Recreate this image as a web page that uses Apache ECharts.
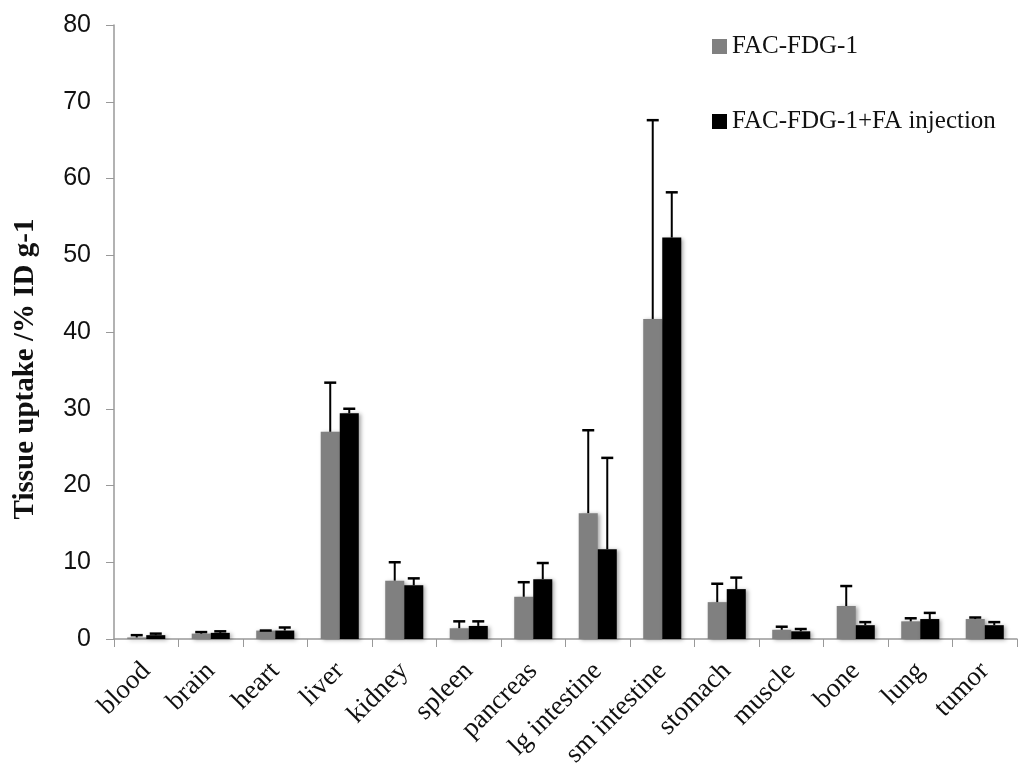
<!DOCTYPE html>
<html>
<head>
<meta charset="utf-8">
<script src="https://cdn.jsdelivr.net/npm/echarts@6/dist/echarts.min.js"></script>
<style>html,body{margin:0;padding:0;background:#fff}#c{width:1020px;height:774px}</style>
</head>
<body>
<div id="c"></div>
<script>
const categories = ['blood','brain','heart','liver','kidney','spleen','pancreas','lg intestine','sm intestine','stomach','muscle','bone','lung','tumor'];
const seriesNames = ['FAC-FDG-1','FAC-FDG-1+FA injection'];
const fdgValues = [0.2, 0.7, 1.1, 27.0, 7.6, 1.4, 5.5, 16.4, 41.7, 4.8, 1.2, 4.3, 2.3, 2.6];
const fdgErrTop = [0.5, 0.9, 1.1, 33.4, 10.0, 2.3, 7.4, 27.2, 67.6, 7.2, 1.6, 6.9, 2.7, 2.8];
const faValues = [0.5, 0.8, 1.1, 29.4, 7.0, 1.7, 7.8, 11.7, 52.3, 6.5, 1.0, 1.8, 2.6, 1.8];
const faErrTop = [0.7, 1.0, 1.5, 30.0, 7.9, 2.3, 9.9, 23.6, 58.2, 8.0, 1.3, 2.2, 3.4, 2.2];
const yTicks = [0, 10, 20, 30, 40, 50, 60, 70, 80];

const GAP = 0.41;
function errSeries(name, values, tops, side) {
  return {
    type: 'custom',
    name: name + ' err',
    z: 5,
    silent: true,
    data: values.map((v, i) => [i, v, tops[i]]),
    renderItem: function (params, api) {
      const catW = api.size([1, 0])[0];
      const barW = catW * (1 - GAP) / 2;
      const base = api.coord([api.value(0), api.value(1)]);
      const top = api.coord([api.value(0), api.value(2)]);
      const x = base[0] + side * barW / 2;
      const cap = 6;
      return {
        type: 'group',
        children: [
          { type: 'line', shape: { x1: x, y1: base[1], x2: x, y2: top[1] }, style: { stroke: '#000', lineWidth: 2 } },
          { type: 'line', shape: { x1: x - cap, y1: top[1], x2: x + cap, y2: top[1] }, style: { stroke: '#000', lineWidth: 2.5 } }
        ]
      };
    }
  };
}

const chart = echarts.init(document.getElementById('c'));
chart.setOption({
  animation: false,
  backgroundColor: '#fff',
  grid: { left: 114, right: 3, top: 25, bottom: 135 },
  legend: {
    orient: 'vertical',
    left: 707,
    top: 29,
    itemWidth: 15,
    itemHeight: 15,
    itemGap: 50,
    icon: 'rect',
    data: seriesNames,
    textStyle: { fontFamily: 'Liberation Serif', fontSize: 25, color: '#111' }
  },
  xAxis: {
    type: 'category',
    data: categories,
    axisLine: { lineStyle: { color: '#999', width: 1.5 } },
    axisTick: { show: true, length: 8, lineStyle: { color: '#999' } },
    axisLabel: { rotate: 45, margin: 28, interval: 0, fontFamily: 'Liberation Serif', fontSize: 27, color: '#111' }
  },
  yAxis: {
    type: 'value',
    min: 0, max: 80, interval: 10,
    axisLine: { show: true, lineStyle: { color: '#999', width: 1.5 } },
    axisTick: { show: true, length: 8, lineStyle: { color: '#999' } },
    splitLine: { show: false },
    axisLabel: {
      margin: 23, fontFamily: 'Liberation Sans', fontSize: 25, color: '#111',
      formatter: function (v) { return yTicks.indexOf(v) >= 0 ? String(v) : ''; }
    }
  },
  graphic: [{
    type: 'text',
    x: 26, y: 369,
    rotation: Math.PI / 2,
    style: {
      text: 'Tissue uptake /% ID g-1',
      font: 'bold 29px "Liberation Serif"',
      fill: '#111',
      align: 'center',
      verticalAlign: 'middle'
    }
  }],
  series: [
    {
      name: seriesNames[0], type: 'bar', data: fdgValues, barGap: '0%', barCategoryGap: (GAP * 100) + '%',
      itemStyle: { color: '#808080', shadowBlur: 4, shadowColor: 'rgba(0,0,0,0.35)', shadowOffsetX: 2, shadowOffsetY: 1 }
    },
    {
      name: seriesNames[1], type: 'bar', data: faValues, barGap: '0%', barCategoryGap: (GAP * 100) + '%',
      itemStyle: { color: '#000000', shadowBlur: 4, shadowColor: 'rgba(0,0,0,0.35)', shadowOffsetX: 2, shadowOffsetY: 1 }
    },
    errSeries(seriesNames[0], fdgValues, fdgErrTop, -1),
    errSeries(seriesNames[1], faValues, faErrTop, 1)
  ]
});
</script>
</body>
</html>
